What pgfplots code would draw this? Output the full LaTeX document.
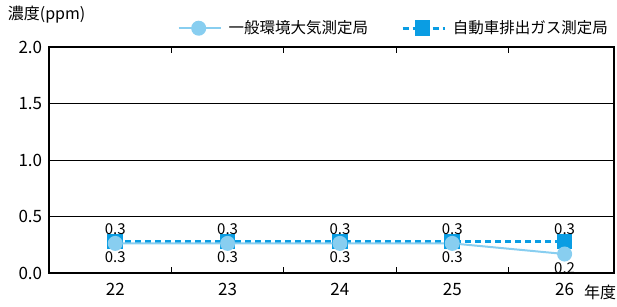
\documentclass[border=0pt]{standalone}
\usepackage{pgfplots}
\pgfplotsset{compat=1.18}
\usepackage{fontspec}
\setmainfont{Noto Sans CJK JP}
\definecolor{genc}{HTML}{88CEF0}
\definecolor{carc}{HTML}{0A9DE3}
\begin{document}
\fontsize{14}{16}\selectfont
\begin{tikzpicture}
\begin{axis}[
  at={(0,0)}, anchor=south west,
  scale only axis, width=565pt, height=226pt,
  xmin=-0.59, xmax=4.44, ymin=0, ymax=2,
  axis line style={line width=1.6pt},
  xtick={0,1,2,3,4}, xticklabels={22,23,24,25,26},
  minor xtick={0.5,1.5,2.5,3.5},
  major tick length=0pt, minor tick length=6pt,
  minor tick style={line width=1pt, black},
  xticklabel style={yshift=-5pt, font=\fontsize{17}{18}\selectfont},
  ytick={0,0.5,1,1.5,2},
  yticklabel style={/pgf/number format/.cd, fixed, fixed zerofill, precision=1, /tikz/.cd, font=\fontsize{17}{18}\selectfont, xshift=-2pt},
  /pgf/number format/assume math mode=true,
  ymajorgrids, grid style={black, line width=0.8pt},
  clip=false,
  legend columns=2, reverse legend,
  legend style={at={(1,1)}, anchor=south east, yshift=7pt, xshift=4pt, draw=none, fill=none,
    font=\fontsize{15.5}{16}\selectfont,
    nodes={inner xsep=7pt},
    /tikz/every even column/.append style={column sep=26pt}},
  legend image code/.code={\draw[mark repeat=2,mark phase=2,#1] plot coordinates {(0pt,0pt) (20pt,0pt) (42pt,0pt)};},
  nodes near coords, point meta=explicit symbolic,
  every node near coord/.append style={font=\fontsize{15}{16}\selectfont, black},
]
\addplot[carc, line width=2.6pt, dash pattern=on 6pt off 4pt, mark=square*, mark size=6.5pt, mark options={solid, fill=carc, draw=carc},
  nodes near coords style={anchor=south, yshift=1pt}]
 coordinates {(0,0.277)[0.3] (1,0.277)[0.3] (2,0.277)[0.3] (3,0.277)[0.3] (4,0.277)[0.3]};
\addlegendentry{自動車排出ガス測定局}
\addplot[genc, line width=2pt, mark=*, mark size=6.5pt, mark options={solid, fill=genc, draw=genc},
  nodes near coords style={anchor=north, yshift=-3pt}]
 coordinates {(0,0.262)[0.3] (1,0.262)[0.3] (2,0.262)[0.3] (3,0.262)[0.3] (4,0.168)[0.2]};
\addlegendentry{一般環境大気測定局}
\node[anchor=center] at (rel axis cs:1,0) [xshift=-14pt, yshift=-19pt] {\fontsize{16}{17}\selectfont 年度};
\node[anchor=west] at (rel axis cs:0,1) [xshift=-46pt, yshift=32pt] {\fontsize{16}{17}\selectfont 濃度(ppm)};
\end{axis}
\pgfresetboundingbox
\path[use as bounding box] (-49pt,-34pt) rectangle (568pt,273pt);
\end{tikzpicture}
\end{document}
